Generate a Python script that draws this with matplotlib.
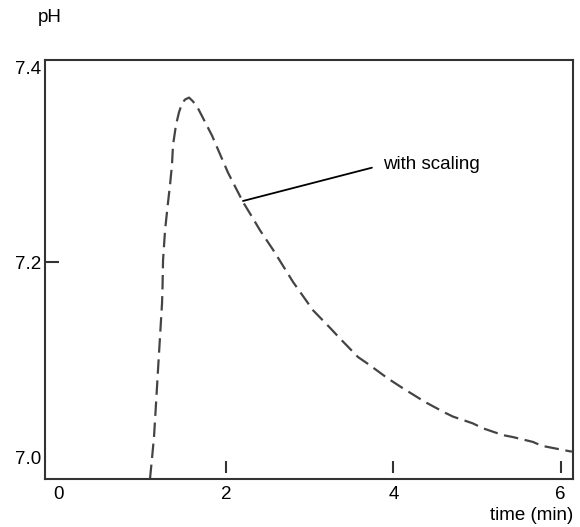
import numpy as np
import matplotlib.pyplot as plt

plt.rcParams['font.family'] = ['Liberation Sans', 'DejaVu Sans']

# ************************************************************
# Data
# ************************************************************

time_min = [1.090, 1.114, 1.138, 1.162, 1.186, 1.210, 1.234, 1.240, 1.246,
            1.270, 1.305, 1.329, 1.353, 1.365, 1.401, 1.437, 1.473, 1.509,
            1.557, 1.605, 1.664, 1.748, 1.832, 1.927, 2.023, 2.130, 2.202,
            2.322, 2.405, 2.561, 2.728, 2.800, 3.039, 3.242, 3.362, 3.577,
            3.696, 3.935, 4.114, 4.377, 4.616, 4.711, 4.950, 5.070, 5.309,
            5.428, 5.668, 5.775, 6.014, 6.134]

ph_scaling = [6.978, 6.999, 7.021, 7.055, 7.090, 7.124, 7.158, 7.175, 7.202,
              7.233, 7.261, 7.279, 7.300, 7.320, 7.341, 7.354, 7.363, 7.367,
              7.369, 7.365, 7.358, 7.344, 7.330, 7.311, 7.292, 7.274, 7.262,
              7.245, 7.233, 7.213, 7.190, 7.180, 7.151, 7.133, 7.122, 7.103,
              7.096, 7.081, 7.071, 7.057, 7.046, 7.042, 7.035, 7.030, 7.023,
              7.021, 7.016, 7.012, 7.008, 7.006]

x_ticks = [0, 2, 4, 6]
x_marks = [2, 4, 6]
y_ticks = [7.0, 7.2, 7.4]
y_tick_labels = ["7.0", "7.2", "7.4"]

label_point = (2.202, 7.263)
label_text_pos = (3.873, 7.300)

# ************************************************************
# Figure
# ************************************************************

fs = 13.5

fig = plt.figure(figsize=(5.8, 5.27), dpi=100)
ax = fig.add_axes([0.0776, 0.0911, 0.9103, 0.795])

ax.plot(
    time_min,
    ph_scaling,
    color='#444444',
    linewidth=1.6,
    dashes=(6.5, 3)
)

ax.set_xlim(-0.165, 6.147)
ax.set_ylim(6.978, 7.4075)

for s in ax.spines.values():
    s.set_color('#333333')
    s.set_linewidth(1.5)

# x ticks: labels only, marks drawn floating above the axis
ax.set_xticks(x_ticks)
ax.set_xticklabels([str(v) for v in x_ticks])
ax.tick_params(axis='x', length=0, pad=5, labelsize=fs)

ax.vlines(
    x_marks,
    0.014,
    0.043,
    transform=ax.get_xaxis_transform(),
    color='#333333',
    linewidth=1.5
)

# y ticks: only 7.2 has a mark
ax.set_yticks(y_ticks)
ax.set_yticklabels(y_tick_labels)
ax.tick_params(axis='y', direction='in', length=10, width=1.5,
               color='#333333', pad=3, labelsize=fs)
yt = ax.yaxis.get_major_ticks()
yt[0].tick1line.set_visible(False)
yt[2].tick1line.set_visible(False)

ax.annotate(
    "with scaling",
    xy=label_point,
    xytext=label_text_pos,
    ha='left',
    va='center',
    fontsize=fs,
    arrowprops=dict(arrowstyle='-', color='black', lw=1.3,
                    shrinkA=6, shrinkB=0, relpos=(0, 0.5))
)

fig.text(50/580, 1 - 18/527, "pH", ha='center', va='center', fontsize=fs)
fig.text(573/580, 1 - 515/527, "time (min)", ha='right', va='center',
         fontsize=fs)

fig.savefig("out.png", dpi=100)
